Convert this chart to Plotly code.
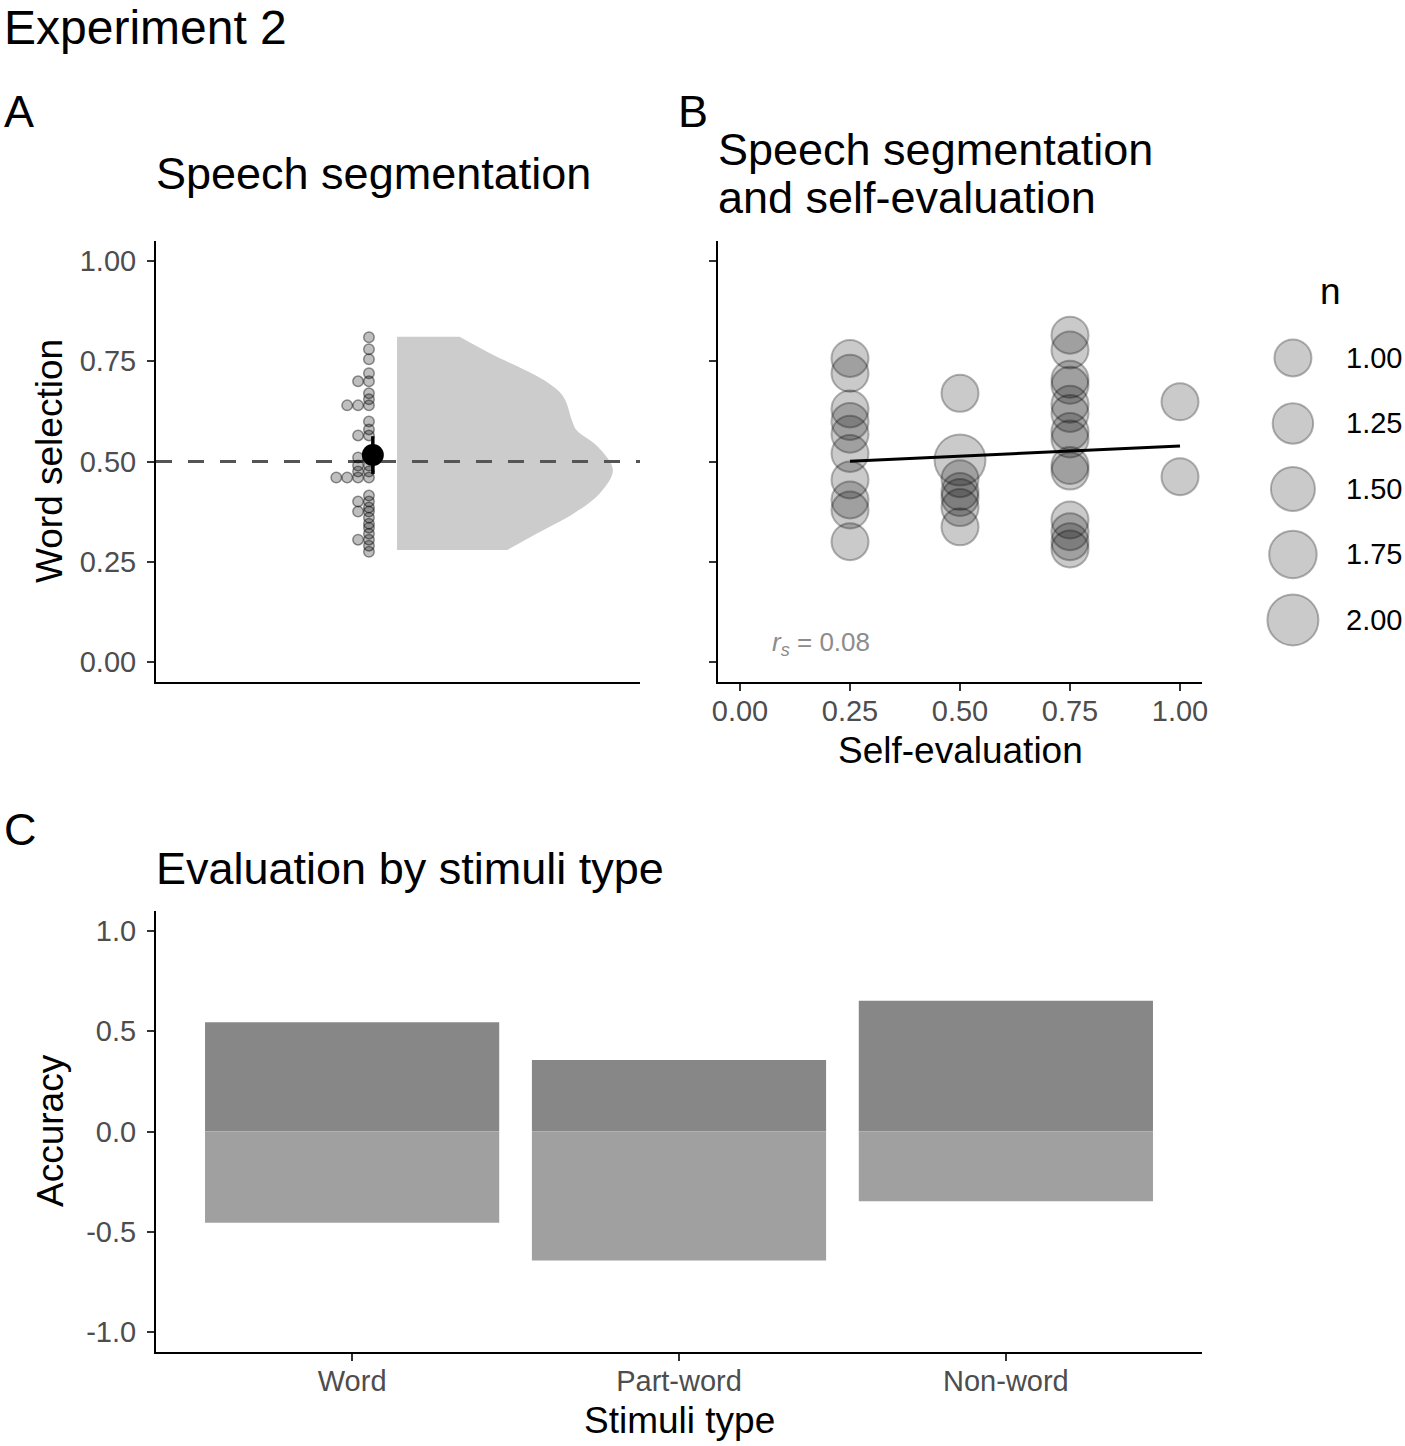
import numpy as np
import plotly.graph_objects as go

W, H = 1405, 1446
FONT = "Liberation Sans, Arial, Helvetica, sans-serif"

# ---------------- Panel A data: word selection per participant ----------------
word_selection = [0.81, 0.78, 0.755, 0.72, 0.70, 0.70, 0.67, 0.655, 0.64, 0.64, 0.64,
                  0.60, 0.58, 0.565, 0.565,
                  0.51, 0.51, 0.49, 0.49, 0.475, 0.475, 0.46, 0.46, 0.46, 0.46,
                  0.415, 0.40, 0.40, 0.385, 0.375, 0.375, 0.36, 0.345, 0.335, 0.32,
                  0.305, 0.305, 0.29, 0.275]
sel_mean = 0.516
sel_ci_low = 0.469
sel_ci_high = 0.563
chance_level = 0.5
# half-violin density profile (relative width)
violin_y = [0.279, 0.321, 0.371, 0.421, 0.479, 0.537, 0.579, 0.603, 0.662, 0.703, 0.770, 0.811]
violin_density = [0.51, 0.65, 0.82, 0.94, 1.00, 0.93, 0.83, 0.81, 0.77, 0.68, 0.43, 0.29]

# ---------------- Panel B data: self-evaluation vs word selection ----------------
self_eval_x = [0.25] * 10 + [0.50] * 7 + [0.75] * 14 + [1.00] * 2
self_eval_y = [0.757, 0.720, 0.631, 0.600, 0.568, 0.520, 0.454, 0.404, 0.379, 0.300,
               0.670, 0.504, 0.457, 0.425, 0.410, 0.385, 0.337,
               0.815, 0.778, 0.705, 0.690, 0.643, 0.620, 0.575, 0.556, 0.490, 0.476,
               0.354, 0.325, 0.300, 0.282,
               0.649, 0.462]
self_eval_n = [1] * 10 + [1, 2, 1, 1, 1, 1, 1] + [1] * 14 + [1] * 2
fit_intercept = 0.488
fit_slope = 0.0507
rs_value = "0.08"
legend_n = [1.00, 1.25, 1.50, 1.75, 2.00]

# ---------------- Panel C data: evaluation accuracy by stimuli type ----------------
stimuli = ["Word", "Part-word", "Non-word"]
acc_positive = [0.545, 0.357, 0.652]
acc_negative = [-0.455, -0.643, -0.348]


def px_x(x):
    return x / W


def px_y(y):
    return 1 - y / H


def bubble_size(n):
    return 37 + (n - 1) * 14


fig = go.Figure()

# ---------- Panel A ----------
violin_base = 0.498
violin_width = 0.446
fig.add_trace(go.Scatter(x=[violin_base, violin_base], y=[violin_y[0], violin_y[-1]],
                         mode="lines", line=dict(width=0), xaxis="x", yaxis="y",
                         hoverinfo="skip", showlegend=False))
fig.add_trace(go.Scatter(x=[violin_base + d * violin_width for d in violin_density],
                         y=violin_y, mode="lines", fill="tonextx",
                         line=dict(width=0, shape="spline", smoothing=1.0),
                         fillcolor="rgb(204,204,204)", xaxis="x", yaxis="y",
                         hoverinfo="skip", showlegend=False))

# chance line
fig.add_trace(go.Scatter(x=[0, 1], y=[chance_level, chance_level], mode="lines",
                         line=dict(color="#555555", width=3, dash="16px,16px"),
                         xaxis="x", yaxis="y", showlegend=False))

# dot plot (stacked leftwards)
col_x = 0.440
dot_step = 0.0225
counts = {}
dx, dy = [], []
for v in word_selection:
    k = counts.get(v, 0)
    counts[v] = k + 1
    dx.append(col_x - k * dot_step)
    dy.append(v)
fig.add_trace(go.Scatter(x=dx, y=dy, mode="markers",
                         marker=dict(size=10.5, color="rgba(0,0,0,0.25)",
                                     line=dict(color="rgba(0,0,0,0.42)", width=1.5)),
                         xaxis="x", yaxis="y", showlegend=False))

# mean and CI
mean_x = 0.448
fig.add_trace(go.Scatter(x=[mean_x, mean_x], y=[sel_ci_low, sel_ci_high], mode="lines",
                         line=dict(color="black", width=3.5), xaxis="x", yaxis="y",
                         showlegend=False))
fig.add_trace(go.Scatter(x=[mean_x], y=[sel_mean], mode="markers",
                         marker=dict(size=22, color="black"), xaxis="x", yaxis="y",
                         showlegend=False))

# ---------- Panel B ----------
bubble_marker = dict(color="rgba(0,0,0,0.29)", line=dict(color="rgba(0,0,0,0.42)", width=2))
fig.add_trace(go.Scatter(x=self_eval_x, y=self_eval_y, mode="markers",
                         marker=dict(size=[bubble_size(n) for n in self_eval_n], **bubble_marker),
                         xaxis="x2", yaxis="y2", showlegend=False))
lx = np.array([min(self_eval_x), max(self_eval_x)])
fig.add_trace(go.Scatter(x=lx, y=fit_intercept + fit_slope * lx, mode="lines",
                         line=dict(color="black", width=3), xaxis="x2", yaxis="y2",
                         showlegend=False))

# size legend
fig.add_trace(go.Scatter(x=[0.277] * len(legend_n), y=legend_n, mode="markers",
                         marker=dict(size=[bubble_size(n) for n in legend_n], **bubble_marker),
                         xaxis="x4", yaxis="y4", showlegend=False))

# ---------- Panel C ----------
fig.add_trace(go.Bar(x=stimuli, y=acc_positive, marker=dict(color="#878787", line=dict(width=0)),
                     width=0.9, xaxis="x3", yaxis="y3", showlegend=False))
fig.add_trace(go.Bar(x=stimuli, y=acc_negative, marker=dict(color="#a0a0a0", line=dict(width=0)),
                     width=0.9, xaxis="x3", yaxis="y3", showlegend=False))

tickfont = dict(family=FONT, size=29, color="#4d4d4d")
axis_common = dict(showline=True, linecolor="black", linewidth=2, showgrid=False,
                   zeroline=False, ticks="outside", ticklen=7, tickwidth=1.5,
                   tickcolor="#333333", tickfont=tickfont, automargin=False)

fig.update_layout(
    template="none",
    width=W, height=H, autosize=False,
    margin=dict(l=0, r=0, t=0, b=0, pad=0, autoexpand=False),
    paper_bgcolor="white", plot_bgcolor="white", barmode="relative",
    font=dict(family=FONT), showlegend=False,
    xaxis=dict(domain=[px_x(156), px_x(640)], range=[0, 1], anchor="y",
               showline=True, linecolor="black", linewidth=2, showgrid=False,
               zeroline=False, showticklabels=False, ticks="", automargin=False),
    yaxis=dict(domain=[px_y(682), px_y(241)], range=[-0.05, 1.05], anchor="x",
               tickvals=[0, 0.25, 0.5, 0.75, 1.0], tickformat=".2f",
               ticklabelstandoff=5, **axis_common),
    xaxis2=dict(domain=[px_x(718), px_x(1202)], range=[-0.05, 1.05], anchor="y2",
                tickvals=[0, 0.25, 0.5, 0.75, 1.0], tickformat=".2f",
                ticklabelstandoff=-5, **axis_common),
    yaxis2=dict(domain=[px_y(682), px_y(241)], range=[-0.05, 1.05], anchor="x2",
                tickvals=[0, 0.25, 0.5, 0.75, 1.0], showticklabels=False,
                **{k: v for k, v in axis_common.items() if k != "tickfont"}),
    xaxis3=dict(domain=[px_x(156), px_x(1202)], range=[-0.6, 2.6], anchor="y3",
                type="category", ticklabelstandoff=-5, **axis_common),
    yaxis3=dict(domain=[px_y(1352), px_y(911)], range=[-1.1, 1.1], anchor="x3",
                tickvals=[-1, -0.5, 0, 0.5, 1],
                ticktext=["-1.0", "-0.5", "0.0", "0.5", "1.0"],
                ticklabelstandoff=5, **axis_common),
    xaxis4=dict(domain=[px_x(1250), 1.0], range=[0, 1], anchor="y4", visible=False),
    yaxis4=dict(domain=[px_y(650), px_y(270)], range=[2.115, 0.664], anchor="x4",
                visible=False),
)

ann = []


def add_text(text, x, y, size, xanchor="left", color="black", textangle=0, align="left"):
    ann.append(dict(text=text, x=px_x(x), y=px_y(y), xref="paper", yref="paper",
                    xanchor=xanchor, yanchor="middle", showarrow=False, align=align,
                    textangle=textangle, font=dict(family=FONT, size=size, color=color)))


add_text("Experiment 2", 2, 27, 48)
add_text("A", 2, 112, 45)
add_text("B", 676, 112, 45)
add_text("C", 2, 830, 45)
add_text("Speech segmentation", 154, 173, 45)
add_text("Speech segmentation", 716, 150, 45)
add_text("and self-evaluation", 716, 198, 45)
add_text("Evaluation by stimuli type", 154, 868, 45)
add_text("Word selection", 50, 461, 37, xanchor="center", textangle=-90)
add_text("Self-evaluation", 960, 750, 37, xanchor="center")
add_text("Accuracy", 50, 1131, 37, xanchor="center", textangle=-90)
add_text("Stimuli type", 679, 1420, 37, xanchor="center")
add_text("n", 1330, 292, 37, xanchor="center")

for n in legend_n:
    ann.append(dict(text=f"{n:.2f}", x=0.605, y=n, xref="x4", yref="y4",
                    xanchor="left", yanchor="middle", showarrow=False,
                    font=dict(family=FONT, size=29, color="black")))

ann.append(dict(text=f"<i>r<sub>s</sub></i> = {rs_value}", x=0.068, y=0.045,
                xref="x2", yref="y2", xanchor="left", yanchor="middle", showarrow=False,
                font=dict(family=FONT, size=26, color="#8c8c8c")))

fig.update_layout(annotations=ann)
fig.write_html("out.html", config={"displayModeBar": False, "responsive": False},
               post_script="document.body.style.margin='0px';document.body.style.overflow='hidden';")
